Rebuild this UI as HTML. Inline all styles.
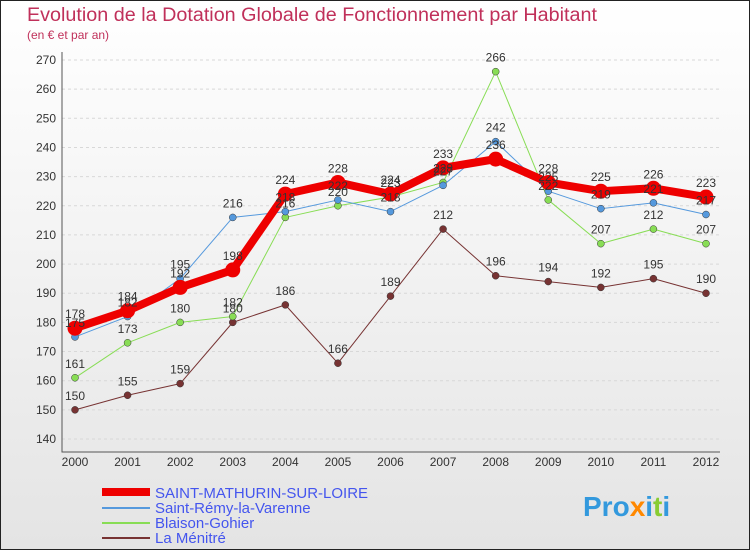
<!DOCTYPE html>
<html><head><meta charset="utf-8"><style>
body{margin:0;width:750px;height:550px;overflow:hidden;font-family:"Liberation Sans",sans-serif}
</style></head><body>
<svg width="750" height="550" xmlns="http://www.w3.org/2000/svg">
<defs><linearGradient id="bg" x1="0" y1="0" x2="0" y2="1"><stop offset="0" stop-color="#ffffff"/><stop offset="1" stop-color="#e4e4e4"/></linearGradient></defs>
<rect x="0.5" y="0.5" width="749" height="549" fill="url(#bg)" stroke="#222"/>
<text x="27" y="21" font-size="19" fill="#c0305a" textLength="570" lengthAdjust="spacingAndGlyphs">Evolution de la Dotation Globale de Fonctionnement par Habitant</text>
<text x="27" y="39" font-size="12" fill="#c0305a">(en € et par an)</text>
<g id="grid"></g><g id="axes"></g><g id="series"></g><g id="labels"></g>
<g>
<line x1="102" y1="492" x2="150" y2="492" stroke="#ee0000" stroke-width="8"/>
<text x="155" y="498" font-size="15" fill="#4455ee">SAINT-MATHURIN-SUR-LOIRE</text>
<line x1="102" y1="508" x2="150" y2="508" stroke="#5599dd" stroke-width="2"/>
<text x="155" y="513" font-size="15" fill="#4455ee">Saint-Rémy-la-Varenne</text>
<line x1="102" y1="523" x2="150" y2="523" stroke="#88dd55" stroke-width="2"/>
<text x="155" y="528" font-size="15" fill="#4455ee">Blaison-Gohier</text>
<line x1="102" y1="538" x2="150" y2="538" stroke="#773333" stroke-width="2"/>
<text x="155" y="543" font-size="15" fill="#4455ee">La Ménitré</text>
</g>
<text x="583" y="516" font-size="28" font-weight="bold" fill="#3399dd">Pro<tspan fill="#ff8800">x</tspan>i<tspan fill="#88cc33">t</tspan>i</text>
</svg>
<script>
const years=[2000,2001,2002,2003,2004,2005,2006,2007,2008,2009,2010,2011,2012];
const yTicks=[140,150,160,170,180,190,200,210,220,230,240,250,260,270];
const saintMathurin=[178,184,192,198,224,228,224,233,236,228,225,226,223];
const saintRemy=[175,182,195,216,218,222,218,227,242,225,219,221,217];
const blaison=[161,173,180,182,216,220,223,228,266,222,207,212,207];
const menitre=[150,155,159,180,186,166,189,212,196,194,192,195,190];
const NS="http://www.w3.org/2000/svg";
const X=i=>75+i*(706-75)/12;
const Y=v=>439-(v-140)*(439-60)/130;
function mk(tag,attrs,parent){const e=document.createElementNS(NS,tag);for(const k in attrs)e.setAttribute(k,attrs[k]);document.getElementById(parent).appendChild(e);return e;}
yTicks.forEach(t=>{
 const g=mk('line',{x1:62,x2:720,y1:Y(t),y2:Y(t),stroke:'#d8d8d8','stroke-dasharray':'3,3'},'grid');
 
 
 const l=mk('text',{x:56,y:Y(t)+4,'font-size':12,fill:'#333','text-anchor':'end'},'axes');l.textContent=t;
 
 
});
years.forEach((yr,i)=>{
 const l=mk('text',{x:X(i),y:466,'font-size':12,fill:'#333','text-anchor':'middle'},'axes');l.textContent=yr;
 
 
});
const ax=mk('path',{d:'M62,52 V452 H720',fill:'none',stroke:'#555'},'axes');


function series(vals,color,w,r,name){
 const p=mk('polyline',{points:vals.map((v,i)=>X(i)+','+Y(v)).join(' '),fill:'none',stroke:color,'stroke-width':w,'stroke-linejoin':'round'},'series');
 
 
 vals.forEach((v,i)=>{
  const c=mk('circle',{cx:X(i),cy:Y(v),r:r,fill:color,stroke:w>3?'none':'#333','stroke-width':0.5},'series');
  
  
  const t=mk('text',{x:X(i),y:Y(v)-10,'font-size':12,fill:'#333','text-anchor':'middle'},'labels');t.textContent=v;
  
  
 });
}
series(menitre,'#773333',1,3.5,'la-menitre');
series(blaison,'#88dd55',1,3.5,'blaison');
series(saintRemy,'#5599dd',1,3.5,'saint-remy');
series(saintMathurin,'#ee0000',8,7.5,'saint-mathurin');
</script>
</body></html>
